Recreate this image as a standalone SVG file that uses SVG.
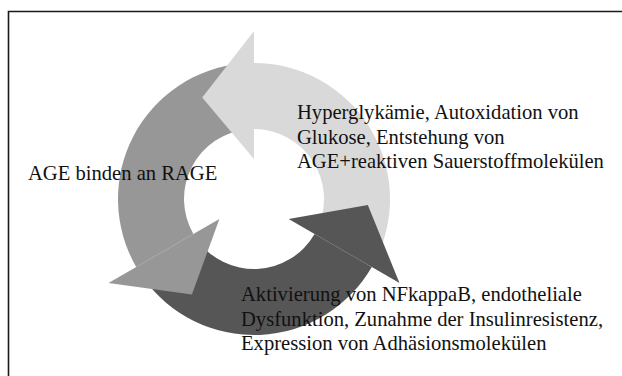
<svg xmlns="http://www.w3.org/2000/svg" width="622" height="376" viewBox="0 0 622 376">
<style>
text{font-family:'Liberation Serif','Times New Roman','DejaVu Serif',serif;font-size:20.6px;fill:#111}
.light{fill:#d9d9d9}
.mid{fill:#979797}
.dark{fill:#565656}
.frame{fill:none;stroke:#1a1a1a;stroke-width:1.6}
</style>
<rect width="622" height="376" fill="#ffffff"/>
<path class="frame" d="M8.5,380 V11.5 H626"/>
<g id="connectors">
  <path class="light" d="M254,63 A136,136 0 0 1 377.26,256.47 L317.44,228.58 A70,70 0 0 0 254,129 Z"/>
  <path class="mid" d="M136.22,267 A136,136 0 0 1 242.15,63.52 L247.90,129.27 A70,70 0 0 0 193.38,234 Z"/>
  <path class="dark" d="M371.78,267 A136,136 0 0 1 142.59,277.01 L196.66,239.15 A70,70 0 0 0 314.62,234 Z"/>
  <polygon class="light" points="254,31 202.24,97.43 254,159"/>
  <polygon class="mid" points="108.51,283 191.91,294.61 219.36,219"/>
  <polygon class="dark" points="288.64,219 367.84,204.97 399.49,283"/>
</g>
<g id="node-hyperglykaemie">
  <text x="297" y="119">Hyperglykämie, Autoxidation von</text>
  <text x="297" y="143.5">Glukose, Entstehung von</text>
  <text x="297" y="168">AGE+reaktiven Sauerstoffmolekülen</text>
</g>
<g id="node-age-rage">
  <text x="28" y="180">AGE binden an RAGE</text>
</g>
<g id="node-aktivierung">
  <text x="241" y="301">Aktivierung von NFkappaB, endotheliale</text>
  <text x="241" y="326">Dysfunktion, Zunahme der Insulinresistenz,</text>
  <text x="241" y="350">Expression von Adhäsionsmolekülen</text>
</g>
</svg>
